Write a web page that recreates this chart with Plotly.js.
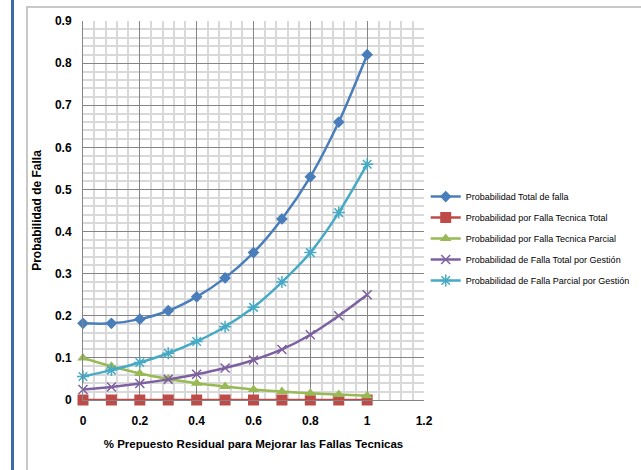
<!DOCTYPE html>
<html><head><meta charset="utf-8">
<script src="https://cdn.plot.ly/plotly-3.0.1.min.js"></script>
<style>
html,body{margin:0;padding:0;background:#fff;}
#wrap{position:relative;width:641px;height:470px;overflow:hidden;}
#chart{position:absolute;left:0;top:0;width:641px;height:470px;}
.fr{position:absolute;}
</style></head>
<body><div id="wrap">
<div id="chart"></div>
<div class="fr" style="left:11px;top:0;width:3px;height:470px;background:#3d6aa3;"></div>
<div class="fr" style="left:26px;top:6px;width:2px;height:464px;background:#c8c8c8;"></div>
<div class="fr" style="left:26px;top:6px;width:615px;height:2px;background:#c8c8c8;"></div>
</div>
<script>
const xVals = [0, 0.1, 0.2, 0.3, 0.4, 0.5, 0.6, 0.7, 0.8, 0.9, 1.0];
const totalFalla = [0.182, 0.182, 0.192, 0.212, 0.245, 0.29, 0.35, 0.43, 0.53, 0.66, 0.82];
const tecnicaTotal = [0, 0, 0, 0, 0, 0, 0, 0, 0, 0, 0];
const tecnicaParcial = [0.1, 0.08, 0.063, 0.05, 0.04, 0.032, 0.025, 0.02, 0.016, 0.013, 0.01];
const gestionTotal = [0.025, 0.031, 0.039, 0.049, 0.061, 0.076, 0.095, 0.12, 0.155, 0.2, 0.25];
const gestionParcial = [0.056, 0.071, 0.089, 0.111, 0.139, 0.174, 0.22, 0.28, 0.35, 0.445, 0.56];
const seriesNames = ["Probabilidad Total de falla", "Probabilidad por Falla Tecnica Total", "Probabilidad por Falla Tecnica Parcial", "Probabilidad de Falla Total por Gestión", "Probabilidad de Falla Parcial por Gestión"];

const colors = ["#4a7ebb", "#be4b48", "#98b954", "#7d60a0", "#46aac5"];
const symbols = ["diamond", "square", "triangle-up", "x-thin-open", "asterisk-open"];
const sizes = [9, 11, 10, 9, 10];
const data = [totalFalla, tecnicaTotal, tecnicaParcial, gestionTotal, gestionParcial];

const traces = data.map((ys, i) => ({
  x: xVals, y: ys, name: seriesNames[i], type: "scatter", mode: "lines+markers",
  legendgroup: "g" + i,
  line: {color: colors[i], width: 2.5, shape: "spline", smoothing: 0.8},
  marker: {symbol: symbols[i], size: sizes[i], color: colors[i], line: {color: colors[i], width: (i >= 3 ? 1.5 : 0)}},
  cliponaxis: false
}));

const tickFont = {family: "Liberation Sans, Arial, sans-serif", size: 12, weight: "bold", color: "#000"};
const layout = {
  width: 641, height: 470,
  margin: {l: 83, r: 217, t: 21, b: 70, autoexpand: false},
  paper_bgcolor: "rgba(0,0,0,0)", plot_bgcolor: "#fff",
  showlegend: true,
  legend: {x: 1.005, y: 0.575, xanchor: "left", yanchor: "top", traceorder: "grouped", tracegroupgap: 2,
    font: {family: "Liberation Sans, Arial, sans-serif", size: 9, color: "#000"},
    itemwidth: 30, bgcolor: "rgba(0,0,0,0)"},
  xaxis: {
    range: [0, 1.2], tickmode: "linear", tick0: 0, dtick: 0.2,
    tickfont: tickFont,
    showgrid: true, gridcolor: "#858585", gridwidth: 1,
    minor: {tickmode: "linear", tick0: 0, dtick: 0.04, showgrid: true, gridcolor: "#d9d9d9", gridwidth: 2},
    zeroline: false, showline: true, linecolor: "#858585",
    ticks: "", ticklabelstandoff: 10,
    title: {text: "% Prepuesto Residual para Mejorar las Fallas Tecnicas", standoff: 12,
      font: {family: "Liberation Sans, Arial, sans-serif", size: 11.5, weight: "bold", color: "#000"}}
  },
  yaxis: {
    range: [0, 0.9], tickmode: "linear", tick0: 0, dtick: 0.1,
    tickfont: tickFont,
    showgrid: true, gridcolor: "#858585", gridwidth: 1,
    minor: {tickmode: "linear", tick0: 0, dtick: 0.02, showgrid: true, gridcolor: "#d9d9d9", gridwidth: 2},
    zeroline: false, showline: true, linecolor: "#858585",
    ticks: "", ticklabelstandoff: 8,
    title: {text: "Probabilidad de Falla", standoff: 10,
      font: {family: "Liberation Sans, Arial, sans-serif", size: 12, weight: "bold", color: "#000"}}
  }
};
Plotly.newPlot("chart", traces, layout, {displayModeBar: false, staticPlot: true});
</script>
</body></html>
